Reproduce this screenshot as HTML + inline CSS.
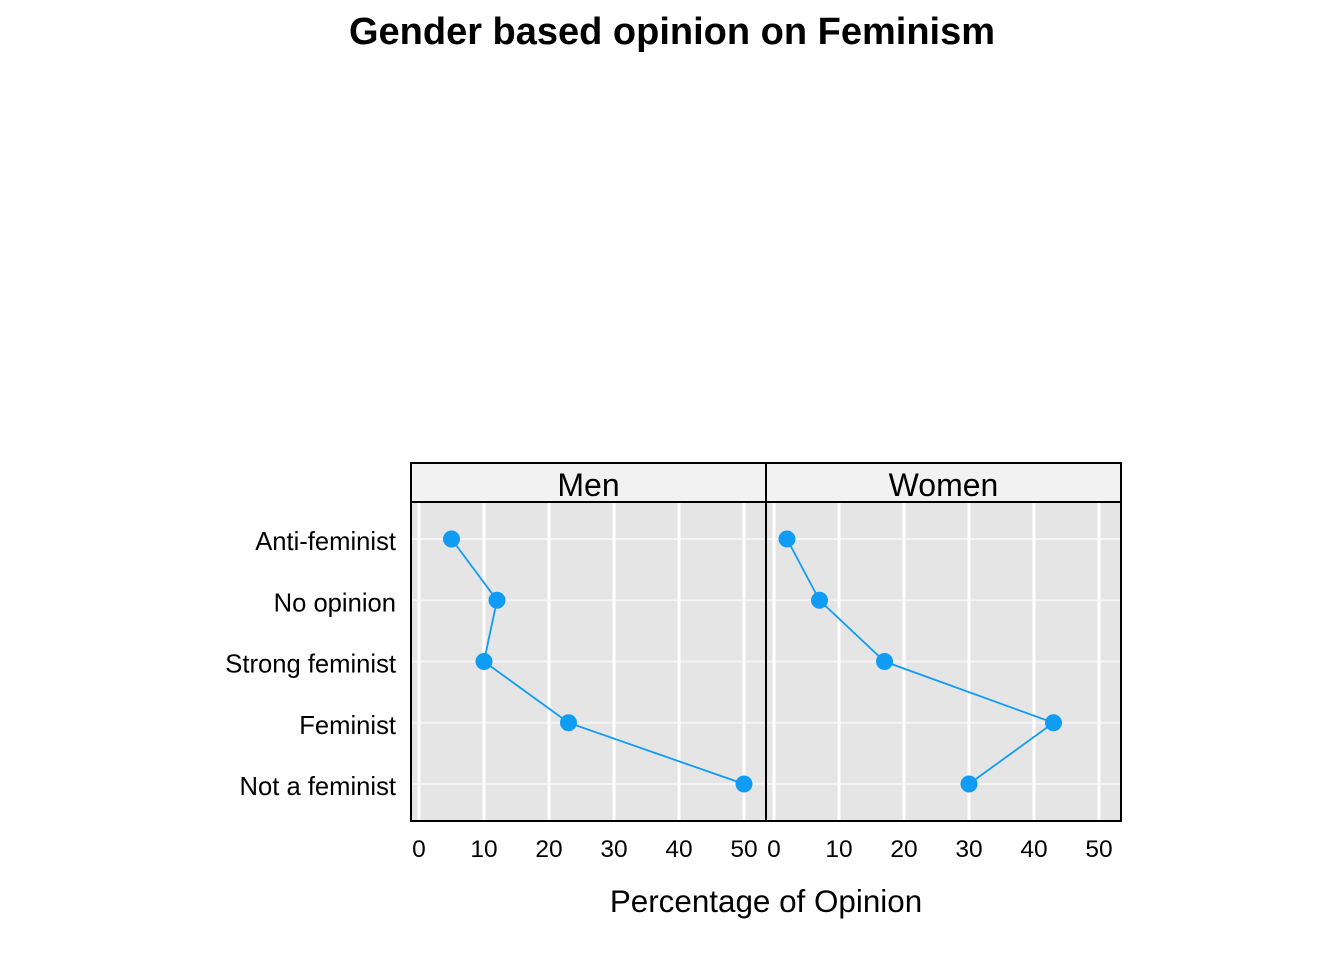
<!DOCTYPE html>
<html><head><meta charset="utf-8"><style>
body{margin:0;background:#fff;}
svg{display:block;font-family:"Liberation Sans",Arial,sans-serif;}
</style></head><body>
<svg id="c" width="1344" height="960" xmlns="http://www.w3.org/2000/svg">
<text x="672" y="44" text-anchor="middle" font-size="38" font-weight="bold">Gender based opinion on Feminism</text>
<text x="766" y="912" text-anchor="middle" font-size="31.4">Percentage of Opinion</text>
<g id="g"></g>
</svg>
<script>
const categories=["Anti-feminist","No opinion","Strong feminist","Feminist","Not a feminist"];
const panels=["Men","Women"];
const menValues=[5,12,10,23,50];
const womenValues=[2,7,17,43,30];
const tickLabels=[0,10,20,30,40,50];
const NS="http://www.w3.org/2000/svg";
const g=document.getElementById('g');
function el(t,a,p){const e=document.createElementNS(NS,t);for(const k in a)e.setAttribute(k,a[k]);(p||g).appendChild(e);return e;}
const panelX=[411,766],pw=355,topY=502,botY=821,stripTop=463;
function xs(p,v){return panelX[p]+8+v*6.5;}
function ys(i){return 539+i*61.25;}
categories.forEach((c,i)=>{
  const t=el('text',{x:396,y:ys(i)+11,'text-anchor':'end','font-size':25.6});
  t.textContent=c;
  
  
});
[menValues,womenValues].forEach((vals,p)=>{
  const x0=panelX[p];
  const bg=el('rect',{x:x0,y:topY,width:pw,height:botY-topY,fill:'#e5e5e5'});
  
  
  categories.forEach((c,i)=>{el('line',{x1:x0,x2:x0+pw,y1:ys(i),y2:ys(i),stroke:'#f4f4f4','stroke-width':2});});
  tickLabels.forEach(v=>{
    el('line',{x1:xs(p,v),x2:xs(p,v),y1:topY,y2:botY,stroke:'#fff','stroke-width':3});
    const t=el('text',{x:xs(p,v),y:857,'text-anchor':'middle','font-size':24.5});
    t.textContent=v;
    
    
  });
  const pts=vals.map((v,i)=>xs(p,v)+','+ys(i)).join(' ');
  const pl=el('polyline',{points:pts,fill:'none',stroke:'#0e9cf4','stroke-width':1.8});
  
  
  vals.forEach((v,i)=>{
    const c=el('circle',{cx:xs(p,v),cy:ys(i),r:8.5,fill:'#0e9cf4'});
    
    
  });
  const s=el('rect',{x:x0,y:stripTop,width:pw,height:topY-stripTop,fill:'#f2f2f2',stroke:'#000','stroke-width':2});
  
  
  const st=el('text',{x:x0+pw/2,y:496,'text-anchor':'middle','font-size':32});
  st.textContent=panels[p];
  
  
  const b=el('rect',{x:x0,y:topY,width:pw,height:botY-topY,fill:'none',stroke:'#000','stroke-width':2});
  
  
});
</script>
</body></html>
